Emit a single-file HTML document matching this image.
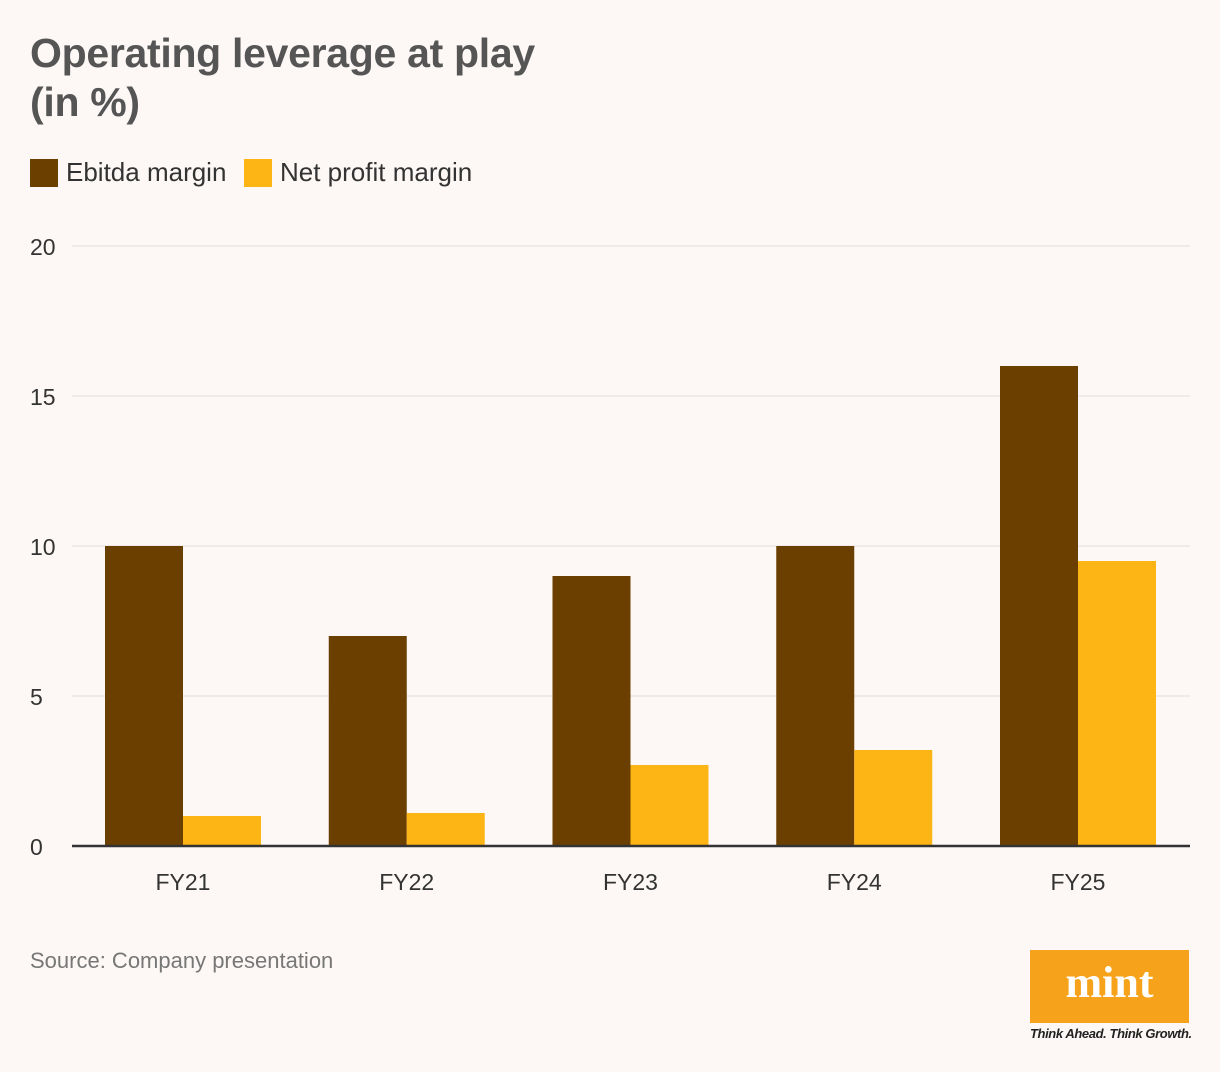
<!DOCTYPE html>
<html><head><meta charset="utf-8"><style>
body{margin:0;background:#fdf8f6;width:1220px;height:1072px;overflow:hidden;font-family:"Liberation Sans",sans-serif;}
#title{position:absolute;left:30px;top:29px;font-size:41px;font-weight:bold;color:#555;line-height:49px;letter-spacing:-0.3px}
.leg{position:absolute;top:157px;font-size:26px;color:#333;display:flex;align-items:center}
.sw{width:28px;height:28px;margin-right:8px;display:inline-block}
#src{position:absolute;left:30px;top:948px;font-size:22px;color:#777}
#logo{position:absolute;left:1030px;top:950px;width:159px;height:73px;background:#f7a21b;color:#fff;font-family:"Liberation Serif",serif;font-weight:bold;font-size:44px;text-align:center;line-height:66px}
#tag{position:absolute;left:1030px;top:1026px;font-size:13px;font-style:italic;font-weight:bold;color:#222;white-space:nowrap;letter-spacing:-0.4px}
</style></head><body>
<div id="title">Operating leverage at play<br>(in %)</div>
<div class="leg" style="left:30px"><span class="sw" style="background:#6b3f00"></span>Ebitda margin</div>
<div class="leg" style="left:244px"><span class="sw" style="background:#fdb515"></span>Net profit margin</div>
<svg id="chart" width="1220" height="1072" style="position:absolute;left:0;top:0"></svg>
<div id="src">Source: Company presentation</div>
<div id="logo">mint</div>
<div id="tag">Think Ahead. Think Growth.</div>
<script>
const categories=["FY21","FY22","FY23","FY24","FY25"];
const ebitda=[10,7,9,10,16];
const netProfit=[1.0,1.1,2.7,3.2,9.5];
const ticks=[0,5,10,15,20];
const svg=document.getElementById('chart');
const NS="http://www.w3.org/2000/svg";
const y=v=>846-v*30;
const cx=i=>183+i*223.75;
const bw=78;
function mk(tag,attrs){const e=document.createElementNS(NS,tag);for(const k in attrs)e.setAttribute(k,attrs[k]);svg.appendChild(e);return e;}
ticks.forEach(t=>{
  if(t>0){const l=mk('line',{x1:72,x2:1190,y1:y(t),y2:y(t),stroke:'#e2dcda','stroke-width':1});
  
  }
  const tx=mk('text',{x:30,y:y(t)+9,'font-size':23,fill:'#333','font-family':'Liberation Sans, sans-serif'});
  tx.textContent=t;
  
  
});
categories.forEach((c,i)=>{
  const a=mk('rect',{x:cx(i)-bw,y:y(ebitda[i]),width:bw,height:846-y(ebitda[i]),fill:'#6b3f00'});
  
  
  const b=mk('rect',{x:cx(i),y:y(netProfit[i]),width:bw,height:846-y(netProfit[i]),fill:'#fdb515'});
  
  
  const t=mk('text',{x:cx(i),y:890,'font-size':23,fill:'#333','text-anchor':'middle','font-family':'Liberation Sans, sans-serif'});
  t.textContent=c;
  
  
});
const ax=mk('line',{x1:72,x2:1190,y1:846,y2:846,stroke:'#333','stroke-width':2.5});


</script>
</body></html>
